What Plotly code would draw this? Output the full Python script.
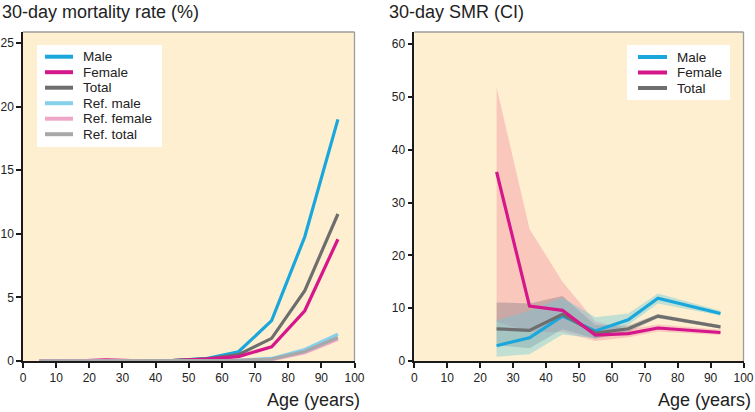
import plotly.graph_objects as go

W, H = 755, 412
FONT = "Liberation Sans"

# ---------------- Left panel: 30-day mortality rate (%) ----------------
age_groups = [5, 15, 25, 35, 45, 55, 65, 75, 85, 95]
mort_male = [0.0, 0.0, 0.02, 0.02, 0.03, 0.18, 0.73, 3.17, 9.77, 19.0]
mort_female = [0.0, 0.0, 0.1, 0.02, 0.03, 0.15, 0.35, 1.12, 3.95, 9.57]
mort_total = [0.0, 0.0, 0.05, 0.02, 0.03, 0.16, 0.5, 1.78, 5.53, 11.56]
ref_male = [0.0, 0.0, 0.0, 0.0, 0.0, 0.02, 0.06, 0.2, 0.9, 2.1]
ref_female = [0.0, 0.0, 0.0, 0.0, 0.0, 0.01, 0.04, 0.1, 0.65, 1.7]
ref_total = [0.0, 0.0, 0.0, 0.0, 0.0, 0.015, 0.05, 0.15, 0.75, 1.85]

# ---------------- Right panel: 30-day SMR (CI) ----------------
smr_age = [25, 35, 45, 55, 65, 74, 93]
smr_male = [2.9, 4.4, 8.5, 5.7, 7.8, 11.9, 9.0]
smr_male_lo = [0.8, 1.3, 5.0, 4.3, 6.8, 10.9, 8.6]
smr_male_hi = [7.7, 9.5, 12.0, 8.3, 9.0, 12.8, 9.5]
smr_female = [35.8, 10.4, 9.6, 4.9, 5.2, 6.25, 5.4]
smr_female_lo = [7.4, 5.5, 5.5, 3.8, 4.5, 5.6, 4.9]
smr_female_hi = [51.8, 25.0, 15.0, 7.5, 6.0, 6.9, 5.9]
smr_total = [6.1, 5.8, 8.85, 5.3, 6.1, 8.5, 6.45]
smr_total_lo = [3.0, 2.4, 6.0, 4.2, 5.5, 8.1, 6.15]
smr_total_hi = [11.1, 10.9, 12.3, 6.8, 6.7, 8.9, 6.75]

x_ticks = [0, 10, 20, 30, 40, 50, 60, 70, 80, 90, 100]
left_y_ticks = [0, 5, 10, 15, 20, 25]
right_y_ticks = [0, 10, 20, 30, 40, 50, 60]

C_MALE = "#1aa7dc"
C_FEMALE = "#d6168b"
C_TOTAL = "#6e6e6e"
C_RMALE = "#86d0ec"
C_RFEMALE = "#eea7c8"
C_RTOTAL = "#a8a8a8"
BG = "#fdefd0"

fig = go.Figure()

# left panel lines (main first, reference lines after)
for name, ys, col in [("Male", mort_male, C_MALE), ("Total", mort_total, C_TOTAL),
                      ("Female", mort_female, C_FEMALE)]:
    fig.add_trace(go.Scatter(x=age_groups, y=ys, mode="lines", name=name,
                             line=dict(color=col, width=3.2), xaxis="x", yaxis="y",
                             showlegend=False))
for name, ys, col in [("Ref. male", ref_male, C_RMALE), ("Ref. female", ref_female, C_RFEMALE),
                      ("Ref. total", ref_total, C_RTOTAL)]:
    fig.add_trace(go.Scatter(x=age_groups, y=ys, mode="lines", name=name,
                             line=dict(color=col, width=3.2), xaxis="x", yaxis="y",
                             showlegend=False))

# right panel CI bands
bands = [
    (smr_female_lo, smr_female_hi, "rgba(245,150,165,0.45)"),
    (smr_total_lo, smr_total_hi, "rgba(105,105,120,0.33)"),
    (smr_male_lo, smr_male_hi, "rgba(110,200,215,0.42)"),
]
for lo, hi, fc in bands:
    fig.add_trace(go.Scatter(x=smr_age, y=lo, mode="lines", line=dict(width=0),
                             xaxis="x2", yaxis="y2", showlegend=False, hoverinfo="skip"))
    fig.add_trace(go.Scatter(x=smr_age, y=hi, mode="lines", line=dict(width=0),
                             fill="tonexty", fillcolor=fc,
                             xaxis="x2", yaxis="y2", showlegend=False, hoverinfo="skip"))

for name, ys, col in [("Male", smr_male, C_MALE), ("Total", smr_total, C_TOTAL),
                      ("Female", smr_female, C_FEMALE)]:
    fig.add_trace(go.Scatter(x=smr_age, y=ys, mode="lines", name=name,
                             line=dict(color=col, width=3.2), xaxis="x2", yaxis="y2",
                             showlegend=False))

# ---------------- layout ----------------
def px(p):
    return p / W


def py(p):
    return 1 - p / H


axis_common = dict(showline=True, linecolor="#1a1a1a", linewidth=1.5,
                   ticks="outside", ticklen=5, tickwidth=1.5, tickcolor="#1a1a1a",
                   showgrid=False, zeroline=False, automargin=False,
                   tickfont=dict(family=FONT, size=12, color="#222"))

ydom = [py(361), py(32)]
fig.update_layout(
    width=W, height=H, autosize=False,
    margin=dict(l=0, r=0, t=0, b=0),
    paper_bgcolor="white", plot_bgcolor=BG,
    font=dict(family=FONT, color="#222"),
    showlegend=False,
    xaxis=dict(domain=[px(23), px(354.5)], range=[0, 100], tickvals=x_ticks,
               anchor="y", **axis_common),
    yaxis=dict(domain=ydom, range=[0, 25.87], tickvals=left_y_ticks,
               anchor="x", **axis_common),
    xaxis2=dict(domain=[px(414.3), px(743.5)], range=[0, 100], tickvals=x_ticks,
                anchor="y2", **axis_common),
    yaxis2=dict(domain=ydom, range=[0, 62.3], tickvals=right_y_ticks,
                anchor="x2", **axis_common),
)

shapes = []
annotations = []

# top/right border lines of each plot area
for xr, yr in [("x domain", "y domain"), ("x2 domain", "y2 domain")]:
    shapes.append(dict(type="line", xref=xr, yref=yr, x0=0, x1=1, y0=1, y1=1,
                       line=dict(color="#9c9c9c", width=1.3)))
    shapes.append(dict(type="line", xref=xr, yref=yr, x0=1, x1=1, y0=0, y1=1,
                       line=dict(color="#9c9c9c", width=1.3)))

# titles
annotations.append(dict(text="30-day mortality rate (%)", xref="paper", yref="paper",
                        x=px(0), y=py(12), xanchor="left", yanchor="middle", showarrow=False,
                        font=dict(family=FONT, size=18, color="#222")))
annotations.append(dict(text="30-day SMR (CI)", xref="paper", yref="paper",
                        x=px(387), y=py(12), xanchor="left", yanchor="middle", showarrow=False,
                        font=dict(family=FONT, size=18, color="#222")))
for xr in [362, 753]:
    annotations.append(dict(text="Age (years)", xref="paper", yref="paper",
                            x=px(xr), y=py(400), xanchor="right", yanchor="middle",
                            showarrow=False, font=dict(family=FONT, size=18, color="#222")))

# manual legends (compact spacing like the reference)
def add_legend(entries, box, line_x0, line_x1, text_x, y0, step):
    bx0, by0, bx1, by1 = box
    shapes.append(dict(type="rect", xref="paper", yref="paper",
                       x0=px(bx0), x1=px(bx1), y0=py(by1), y1=py(by0),
                       fillcolor="white", line=dict(width=0), layer="above"))
    for i, (name, col) in enumerate(entries):
        yy = y0 + i * step
        shapes.append(dict(type="line", xref="paper", yref="paper",
                           x0=px(line_x0), x1=px(line_x1), y0=py(yy), y1=py(yy),
                           line=dict(color=col, width=4), layer="above"))
        annotations.append(dict(text=name, xref="paper", yref="paper",
                                x=px(text_x), y=py(yy), xanchor="left", yanchor="middle",
                                showarrow=False, font=dict(family=FONT, size=13.5, color="#222")))


add_legend([("Male", C_MALE), ("Female", C_FEMALE), ("Total", C_TOTAL),
            ("Ref. male", C_RMALE), ("Ref. female", C_RFEMALE), ("Ref. total", C_RTOTAL)],
           (37, 45, 162, 147), 45, 73, 81, 56.7, 15.5)
add_legend([("Male", C_MALE), ("Female", C_FEMALE), ("Total", C_TOTAL)],
           (627, 45, 730, 100), 638, 667, 675, 57, 15.5)

fig.update_layout(shapes=shapes, annotations=annotations)

fig.write_html("out.html",
               config={"displayModeBar": False},
               post_script="document.body.style.margin='0';document.body.style.padding='0';")
